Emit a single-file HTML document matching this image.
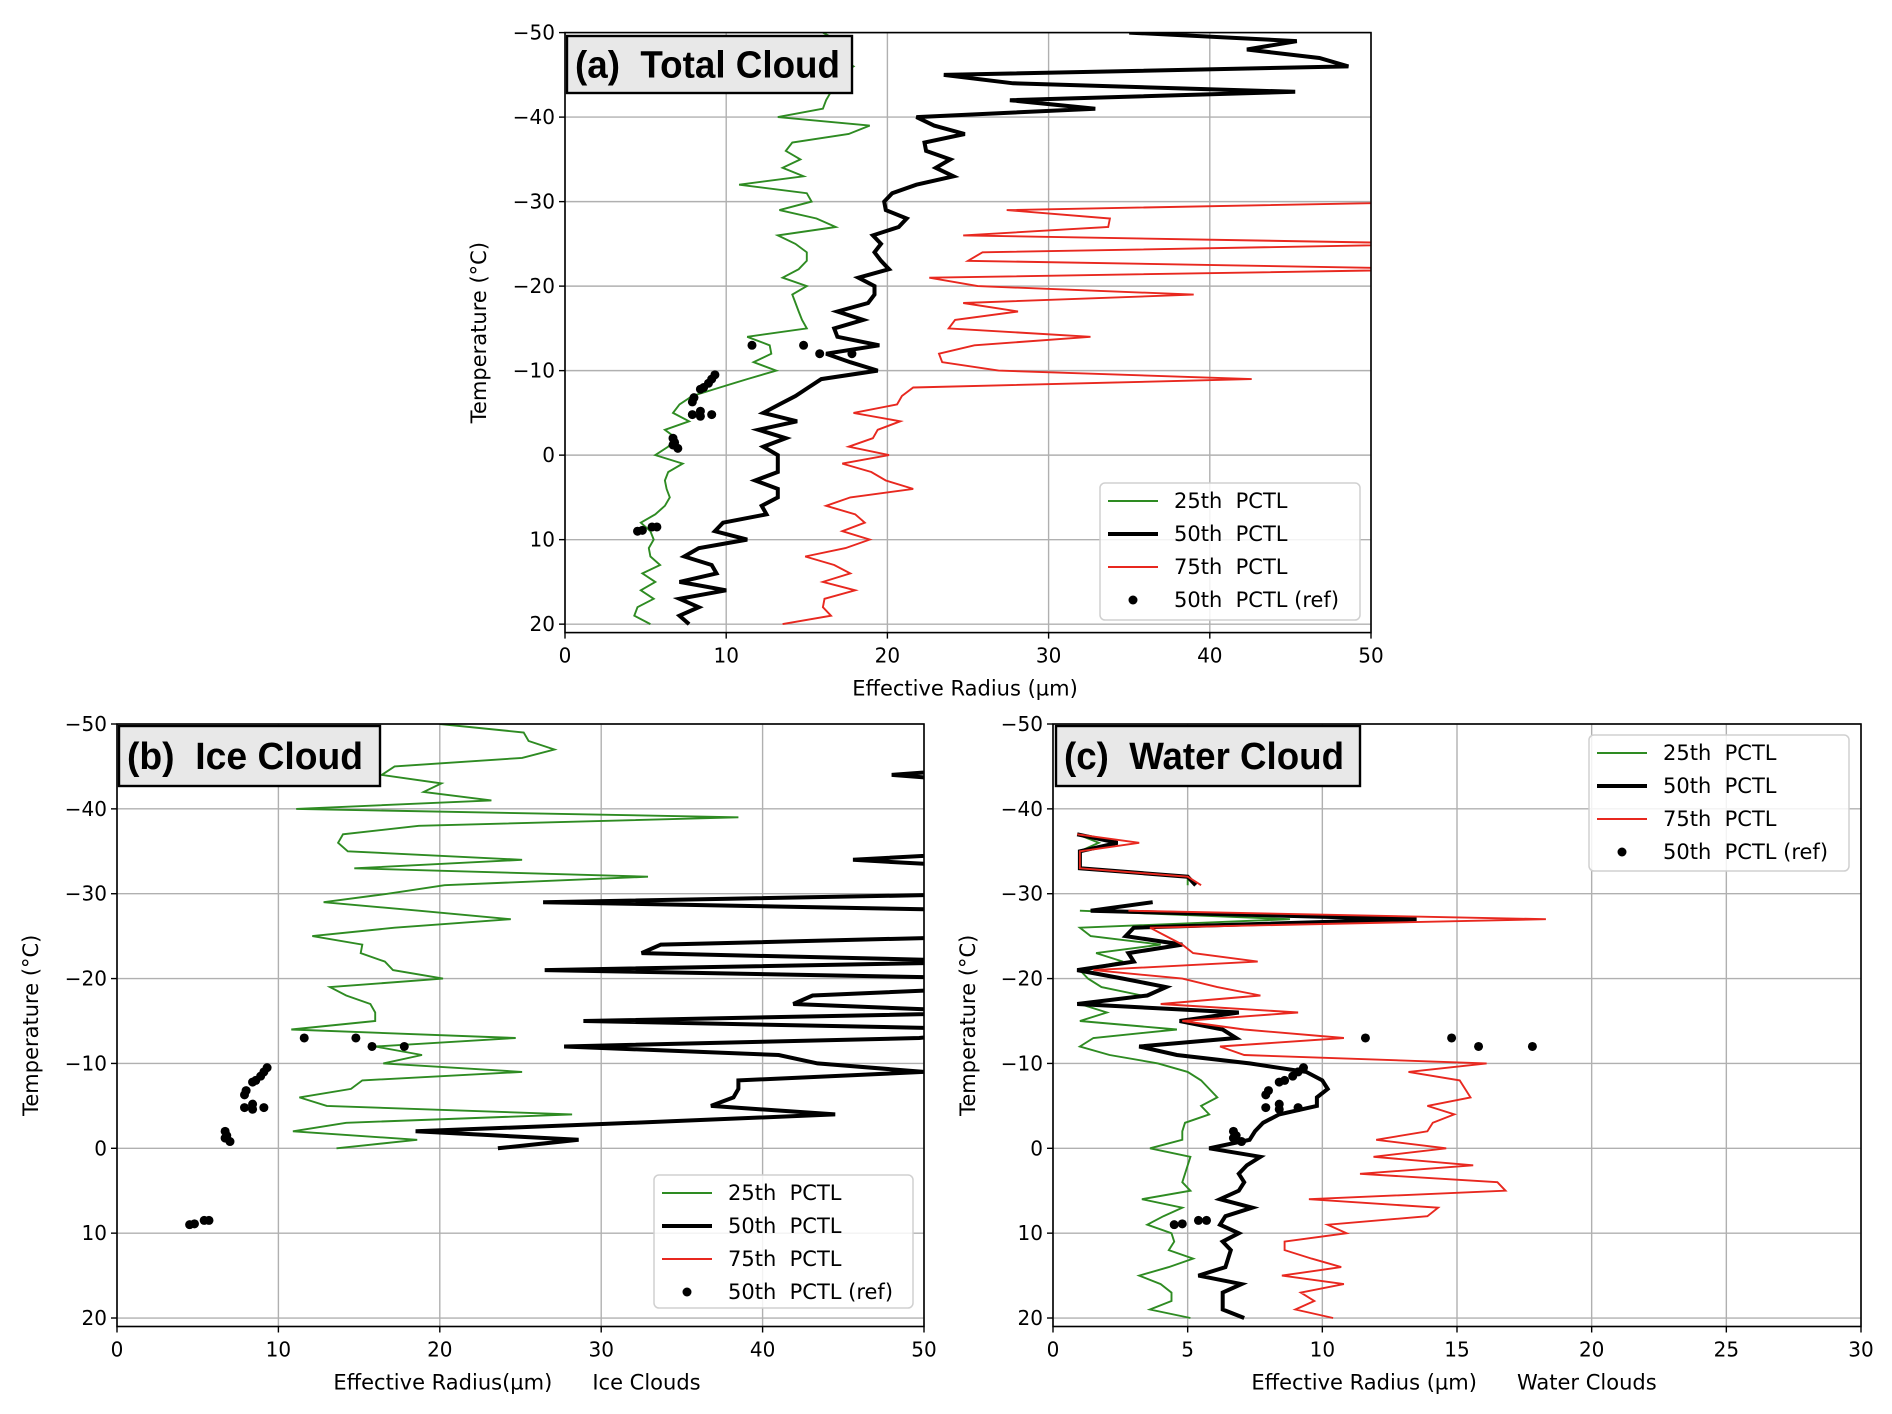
<!DOCTYPE html>
<html><head><meta charset="utf-8"><style>
html,body{margin:0;padding:0;background:#fff;}
svg{display:block;font-family:"DejaVu Sans","Liberation Sans",sans-serif;}
svg text{white-space:pre;}
</style></head><body>
<svg id="fig" width="1892" height="1414" viewBox="0 0 1892 1414" xmlns="http://www.w3.org/2000/svg"></svg>
<script>
const temps = [-50,-49,-48,-47,-46,-45,-44,-43,-42,-41,-40,-39,-38,-37,-36,-35,-34,-33,-32,-31,-30,-29,-28,-27,-26,-25,-24,-23,-22,-21,-20,-19,-18,-17,-16,-15,-14,-13,-12,-11,-10,-9,-8,-7,-6,-5,-4,-3,-2,-1,0,1,2,3,4,5,6,7,8,9,10,11,12,13,14,15,16,17,18,19,20];
const yTicks = [-50,-40,-30,-20,-10,0,10,20];
const xTicksA = [0,10,20,30,40,50];
const xTicksB = [0,10,20,30,40,50];
const xTicksC = [0,5,10,15,20,25,30];
const N = null;
// Panel (a) Total Cloud
const a25 = [16,17,16.5,17,17.9,17,16.5,16.5,16.2,16,13.2,18.9,17.6,14.1,13.7,14.6,13.5,14.8,10.8,15,15.3,13.3,15.6,16.8,13.2,14.3,15,15,14.5,13.5,15,14.1,14.3,14.5,14.7,15,11.3,12.7,12.8,11.7,13.1,11.3,9.6,7.9,7.1,6.7,7.7,6.2,6.9,6.4,5.6,7.3,6.4,6.2,6.3,6.5,6.2,5.6,4.7,5.3,5.5,5.2,5.3,5.9,4.8,5.6,4.7,5.5,4.5,4.3,5.3];
const a50 = [35,45.4,42.3,46.8,48.6,23.5,27.8,45.3,27.6,32.9,21.8,22.9,24.8,22.3,22.4,23.9,23,24.1,21.8,20.3,19.8,19.9,21.2,20.7,19.1,19.6,19.2,19.6,20.1,18.2,19.2,19.2,18.8,16.9,18.5,16.7,16.9,19.5,16.2,17.7,19.4,15.9,15.1,14.3,13.3,12.3,14.4,12,13.7,12.3,13.2,13.2,13.2,11.8,13.2,13.2,12.2,12.5,9.8,9.3,11.3,8.3,7.4,9.1,9.4,7.1,10,7.1,8.3,7.1,7.7];
const a75 = [55,55,55,55,55,55,55,55,55,55,55,55,55,55,55,55,55,55,55,55,55,27.4,33.8,33.7,24.7,55,25.9,25,55,22.6,25.6,39,24.7,28.1,24.2,23.8,32.6,25.4,23.2,23.4,26.9,42.6,21.6,20.9,20.6,17.9,20.8,19.4,19.1,17.6,20.1,17.2,19,19.9,21.6,17.7,16.2,18,18.6,17.2,18.9,17.4,14.9,16.7,17.7,16,18,16.1,16,16.5,13.5];
// Panel (b) Ice Cloud
const b25 = [20,25.2,25.5,27.1,25.1,17.2,16.4,20.1,19,23.2,11.1,38.5,18.7,14,13.7,14.3,25.1,14.7,32.9,20.3,16.8,12.8,18.7,24.4,17.2,12.1,15.2,15.1,16.6,17.1,20.2,13.2,14.2,15.7,16,16,10.8,24.7,16,18.9,16.5,25.1,15.2,14.5,11.3,13,28.2,14.2,10.9,18.6,13.6,N,N,N,N,N,N,N,N,N,N,N,N,N,N,N,N,N,N,N,N];
const b50 = [55,55,55,55,55,55,48,55,55,55,55,55,55,55,55,55,45.6,55,55,55,55,26.4,55,55,55,55,33.7,32.5,55,26.5,55,55,43.1,41.9,55,28.9,55,49.7,27.7,41,43.4,50,38.5,38.5,38.2,36.8,44.5,32,18.5,28.6,23.6,N,N,N,N,N,N,N,N,N,N,N,N,N,N,N,N,N,N,N,N];
const b75 = [60,60,60,60,60,60,60,60,60,60,60,60,60,60,60,60,60,60,60,60,60,60,60,60,60,60,60,60,60,60,60,60,60,60,60,60,60,60,60,60,60,60,60,60,60,60,60,60,60,60,60,N,N,N,N,N,N,N,N,N,N,N,N,N,N,N,N,N,N,N,N];
// Panel (c) Water Cloud
const c25 = [N,N,N,N,N,N,N,N,N,N,N,N,N,0.9,1.7,1,1,1,5,5,N,N,1,8.8,1,1.4,4,1.6,2.6,1,1.3,1.8,3.3,1,2,1,4.6,1.5,1,2.1,3.9,5,5.5,5.8,6.1,5.5,5.8,4.9,4.8,4.8,3.6,5.1,5,4.9,4.8,5.1,3.3,4.8,4.1,3.5,4.4,4.5,4.3,5.2,4.3,3.2,4,4.4,4.4,3.6,5.1];
const c50 = [N,N,N,N,N,N,N,N,N,N,N,N,N,0.9,2.4,1,1,1,5,5.3,N,3.7,1.4,13.5,3,2.7,4.8,2.8,3,0.9,2.6,4.2,3.5,0.9,6.9,4.7,6.3,6.8,3.2,4.6,7.3,9.4,10,10.2,9.8,9.8,8.4,7.8,7.5,7.3,5.8,7.7,7.2,6.9,7.1,6.9,6.2,7.4,6.4,6.2,6.9,6.3,6.6,6.5,6.4,5.4,7,6.3,6.3,6.3,7.1];
const c75 = [N,N,N,N,N,N,N,N,N,N,N,N,N,0.9,3.2,1,1,1,5,5.5,N,N,2.8,18.3,3.6,4.2,4.8,5.2,7.6,1.5,4.8,6.1,7.7,4,9.1,4.8,7.1,10.8,6.2,7.1,16.1,13.2,15.1,15.3,15.5,13.9,14.9,14.1,13.9,12,14.6,11.9,15.6,11.4,16.5,16.8,9.5,14.3,13.9,10.2,10.9,8.6,8.6,9.6,10.7,8.5,10.8,9.2,9.7,9,10.4];
// Reference median points (shared)
const refX = [11.6,14.8,15.8,17.8,9.3,9.1,8.9,8.6,8.4,8.0,7.9,7.9,8.4,8.4,9.1,6.7,6.8,6.7,7.0,4.5,4.8,5.4,5.7];
const refT = [-13,-13,-12,-12,-9.5,-9,-8.5,-8,-7.8,-6.8,-6.3,-4.8,-5.2,-4.6,-4.8,-2,-1.5,-1.2,-0.8,9,8.9,8.5,8.5];

const NS = "http://www.w3.org/2000/svg";
const fig = document.getElementById('fig');
function mk(tag, attrs, parent){const e=document.createElementNS(NS,tag);for(const k in attrs)e.setAttribute(k,attrs[k]);(parent||fig).appendChild(e);return e;}

function panel(p){
  const g = mk('g',{});
  
  
  const xs = v => p.L + v/p.xmax*(p.R-p.L);
  const ys = t => p.T + (t + 50)/71*(p.B-p.T);
  const clipId = 'clip-'+p.id;
  const cp = mk('clipPath',{id:clipId},g);
  mk('rect',{x:p.L,y:p.T,width:p.R-p.L,height:p.B-p.T},cp);
  const grid = mk('g',{stroke:'#b0b0b0','stroke-width':1.4},g);
  
  
  p.xt.forEach(v=>mk('line',{x1:xs(v),x2:xs(v),y1:p.T,y2:p.B},grid));
  yTicks.forEach(t=>mk('line',{x1:p.L,x2:p.R,y1:ys(t),y2:ys(t)},grid));
  const sg = mk('g',{'clip-path':'url(#'+clipId+')',fill:'none','stroke-linejoin':'miter'},g);
  const S25=[p.s25,'#2e8b22',1.9,'pctl-25-line'], S50=[p.s50,'#000',4,'pctl-50-line'], S75=[p.s75,'#e8281f',1.9,'pctl-75-line'];
  const ord = p.id==='b' ? [S75,S25,S50] : [S25,S50,S75];
  ord.forEach(s=>{
    let d='',pen=false;
    s[0].forEach((v,i)=>{ if(v===null){pen=false;return;} d+=(pen?'L':'M')+xs(v).toFixed(1)+' '+ys(temps[i]).toFixed(1)+' '; pen=true;});
    const path = mk('path',{d:d,stroke:s[1],'stroke-width':s[2]},sg);
    
    
  });
  refX.forEach((v,i)=>{
    const c = mk('circle',{cx:xs(v),cy:ys(refT[i]),r:4.5,fill:'#000'},sg);
    
    
  });
  const fr = mk('rect',{x:p.L,y:p.T,width:p.R-p.L,height:p.B-p.T,fill:'none',stroke:'#000','stroke-width':1.6},g);
  
  
  p.xt.forEach(v=>{
    mk('line',{x1:xs(v),x2:xs(v),y1:p.B,y2:p.B+6,stroke:'#000','stroke-width':1.4},g);
    const t = mk('text',{x:xs(v),y:p.B+30,'font-size':20,'text-anchor':'middle',fill:'#000'},g);
    t.textContent = String(v);
    
    
  });
  yTicks.forEach(v=>{
    mk('line',{x1:p.L-6,x2:p.L,y1:ys(v),y2:ys(v),stroke:'#000','stroke-width':1.4},g);
    const t = mk('text',{x:p.L-10,y:ys(v)+7,'font-size':20,'text-anchor':'end',fill:'#000'},g);
    t.textContent = v<0 ? '\u2212'+Math.abs(v) : String(v);
    
    
  });
  const xl = mk('text',{x:p.xlx,y:p.B+63,'font-size':21,'text-anchor':'middle',fill:'#000'},g);
  xl.textContent = p.xlabel;
  
  
  const yl = mk('text',{x:0,y:0,'font-size':21,'text-anchor':'middle',fill:'#000',transform:'translate('+p.ylx+','+((p.T+p.B)/2)+') rotate(-90)'},g);
  yl.textContent = 'Temperature (\u00B0C)';
  
  
  const tb = mk('g',{},g);
  
  
  mk('rect',{x:p.tb[0],y:p.tb[1],width:p.tb[2],height:p.tb[3],fill:'#e8e8e8',stroke:'#000','stroke-width':2.4},tb);
  const tt = mk('text',{x:p.tb[0]+8,y:p.tb[1]+p.tb[3]/2+13,'font-size':38,'font-weight':'bold',fill:'#000','font-family':'"Liberation Sans Narrow","Liberation Sans",sans-serif',textLength:p.tb[4],lengthAdjust:'spacingAndGlyphs'},tb);
  tt.textContent = p.title;
  const lg = mk('g',{},g);
  
  
  const [lx,ly,lw,lh] = p.leg;
  mk('rect',{x:lx,y:ly,width:lw,height:lh,rx:5,fill:'#fff','fill-opacity':0.85,stroke:'#d0d0d0','stroke-width':1.5},lg);
  const items = [['25th  PCTL','#2e8b22',1.9,'line'],['50th  PCTL','#000',4,'line'],['75th  PCTL','#e8281f',1.9,'line'],['50th  PCTL (ref)','#000',0,'dot']];
  items.forEach((it,i)=>{
    const yy = ly+18+i*33;
    const e = mk('g',{},lg);
    
    
    if(it[3]==='line') mk('line',{x1:lx+8,x2:lx+58,y1:yy,y2:yy,stroke:it[1],'stroke-width':it[2]},e);
    else mk('circle',{cx:lx+33,cy:yy,r:4.5,fill:'#000'},e);
    const t = mk('text',{x:lx+74,y:yy+7,'font-size':21,fill:'#000'},e);
    t.textContent = it[0];
  });
}

panel({id:'a',L:565,R:1371,T:32.6,B:632.6,xmax:50,xt:xTicksA,s25:a25,s50:a50,s75:a75,
  xlabel:'Effective Radius (\u00B5m)',xlx:965,ylx:486,tb:[567,36,285,57,265],title:'(a)  Total Cloud',leg:[1100,483,260,137]});
panel({id:'b',L:117,R:924,T:724,B:1326.5,xmax:50,xt:xTicksB,s25:b25,s50:b50,s75:b75,
  xlabel:'Effective Radius(\u00B5m)      Ice Clouds',xlx:517,ylx:38,tb:[119,726,261,60,236],title:'(b)  Ice Cloud',leg:[654,1175,259,133]});
panel({id:'c',L:1053,R:1861,T:724,B:1326.5,xmax:30,xt:xTicksC,s25:c25,s50:c50,s75:c75,
  xlabel:'Effective Radius (\u00B5m)      Water Clouds',xlx:1454,ylx:975,tb:[1056,726,304,60,280],title:'(c)  Water Cloud',leg:[1589,735,260,136]});
</script>
</body></html>
